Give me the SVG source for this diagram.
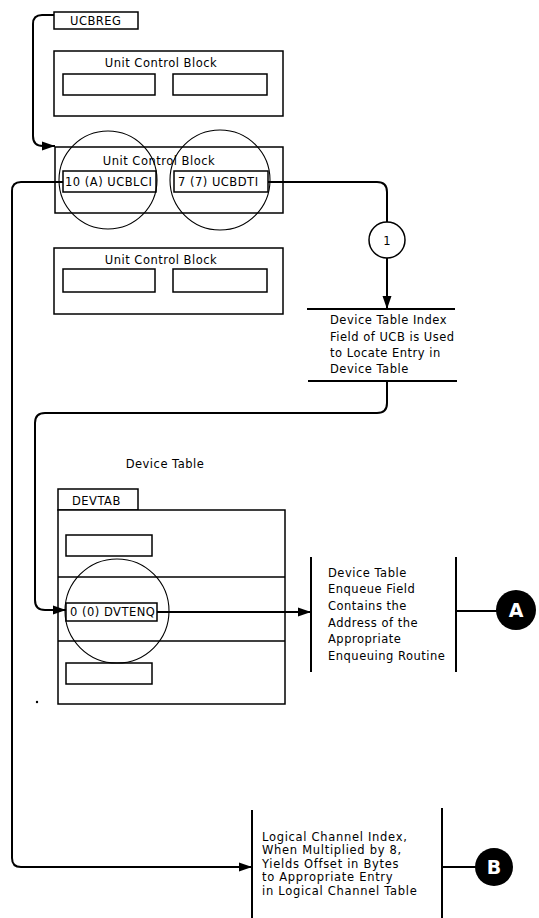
<svg xmlns="http://www.w3.org/2000/svg" width="539" height="918" viewBox="0 0 539 918">
<style>
.box{fill:#fff;stroke:#000;stroke-width:1.5}
.fld{fill:none;stroke:#000;stroke-width:1.5}
.ln{fill:none;stroke:#000;stroke-width:2}
.lens{fill:none;stroke:#000;stroke-width:1.1}
.conn{fill:none;stroke:#000;stroke-width:2}
text{font-family:"DejaVu Sans","Liberation Sans",sans-serif;font-size:11.5px;letter-spacing:0.5px;fill:#000}
.c{text-anchor:middle}
.w{fill:#fff;font-size:19px;font-weight:bold;text-anchor:middle;letter-spacing:0}
</style>
<defs>
<marker id="ah" markerUnits="userSpaceOnUse" markerWidth="14" markerHeight="10" refX="13" refY="5" orient="auto">
<path d="M0,0.5 L13,5 L0,9.5 Z" fill="#000"/>
</marker>
</defs>
<rect width="539" height="918" fill="#fff"/>

<g id="ucbreg">
<rect class="box" x="54" y="12" width="84" height="17"/>
<text x="70" y="25">UCBREG</text>
</g>

<g id="ucb1">
<rect class="box" x="54" y="51" width="229" height="65"/>
<text class="c" x="161" y="67">Unit Control Block</text>
<rect class="fld" x="63" y="74" width="92" height="21"/>
<rect class="fld" x="173" y="74" width="94" height="21"/>
</g>

<g id="ucb2">
<rect class="box" x="55" y="147" width="228" height="66"/>
<text class="c" x="159" y="165">Unit Control Block</text>
<rect class="fld" x="63" y="171" width="93" height="21"/>
<rect class="fld" x="174" y="171" width="94" height="21"/>
<text x="65" y="186">10 (A) UCBLCI</text>
<text x="178" y="186">7 (7) UCBDTI</text>
<circle class="lens" cx="108" cy="180" r="49"/>
<circle class="lens" cx="220" cy="180" r="50"/>
</g>

<g id="ucb3">
<rect class="box" x="54" y="248" width="229" height="66"/>
<text class="c" x="161" y="264">Unit Control Block</text>
<rect class="fld" x="63" y="269" width="92" height="23"/>
<rect class="fld" x="173" y="269" width="94" height="23"/>
</g>

<g id="step1">
<circle cx="387" cy="240" r="18" fill="#fff" stroke="#000" stroke-width="1.5"/>
<text class="c" x="387" y="245" style="letter-spacing:0">1</text>
</g>

<g id="dti-note">
<line class="ln" x1="307" y1="309" x2="455" y2="309"/>
<line class="ln" x1="308" y1="381" x2="457" y2="381"/>
<text x="330" y="324">Device Table Index</text>
<text x="330" y="341">Field of UCB is Used</text>
<text x="330" y="357">to Locate Entry in</text>
<text x="330" y="373">Device Table</text>
</g>

<g id="devtab-title">
<text class="c" x="165" y="468">Device Table</text>
</g>

<g id="devtab">
<rect class="box" x="58" y="489" width="80" height="21"/>
<text x="72" y="505">DEVTAB</text>
<rect class="box" x="58" y="510" width="227" height="194"/>
<line class="fld" x1="58" y1="577" x2="285" y2="577"/>
<line class="fld" x1="58" y1="641" x2="285" y2="641"/>
<rect class="fld" x="66" y="535" width="86" height="21"/>
<rect class="fld" x="66" y="603" width="91" height="18"/>
<rect class="fld" x="66" y="663" width="86" height="21"/>
<text x="70" y="616">0 (0) DVTENQ</text>
<circle class="lens" cx="117" cy="611" r="52"/>
</g>

<g id="enq-note">
<line class="ln" x1="311" y1="557" x2="311" y2="672"/>
<line class="ln" x1="456" y1="557" x2="456" y2="672"/>
<text x="328" y="577">Device Table</text>
<text x="328" y="593">Enqueue Field</text>
<text x="328" y="610">Contains the</text>
<text x="328" y="627">Address of the</text>
<text x="328" y="643">Appropriate</text>
<text x="328" y="660">Enqueuing Routine</text>
</g>

<g id="conA">
<circle cx="516" cy="610" r="20" fill="#000"/>
<text class="w" x="516" y="617">A</text>
</g>

<g id="lc-note">
<line class="ln" x1="252" y1="810" x2="252" y2="918"/>
<line class="ln" x1="442" y1="808" x2="442" y2="918"/>
<text x="262" y="841" style="letter-spacing:0.7px">Logical Channel Index,</text>
<text x="262" y="854" style="letter-spacing:0.7px">When Multiplied by 8,</text>
<text x="262" y="868" style="letter-spacing:0.7px">Yields Offset in Bytes</text>
<text x="262" y="881" style="letter-spacing:0.7px">to Appropriate Entry</text>
<text x="262" y="895" style="letter-spacing:0.7px">in Logical Channel Table</text>
</g>

<g id="conB">
<circle cx="494" cy="867" r="19" fill="#000"/>
<text class="w" x="494" y="874">B</text>
</g>

<g id="connectors">
<path class="conn" d="M54,15 H42 Q33,15 33,24 V136 Q33,146 43,146 H55" marker-end="url(#ah)"/>
<path class="conn" d="M63,182 H21 Q12,182 12,191 V858 Q12,867 21,867 H252" marker-end="url(#ah)"/>
<path class="conn" d="M268,182 H377 Q387,182 387,192 V222"/>
<path class="conn" d="M387,258 V309" marker-end="url(#ah)"/>
<path class="conn" d="M387,381 V403 Q387,413 377,413 H45 Q35,413 35,423 V600 Q35,610 45,610 H66" marker-end="url(#ah)"/>
<path class="conn" d="M157,612 H311" marker-end="url(#ah)"/>
<path class="conn" d="M456,611 H497"/>
<path class="conn" d="M442,867 H476"/>
</g>
<circle cx="37" cy="702" r="1.2" fill="#000"/>
</svg>
